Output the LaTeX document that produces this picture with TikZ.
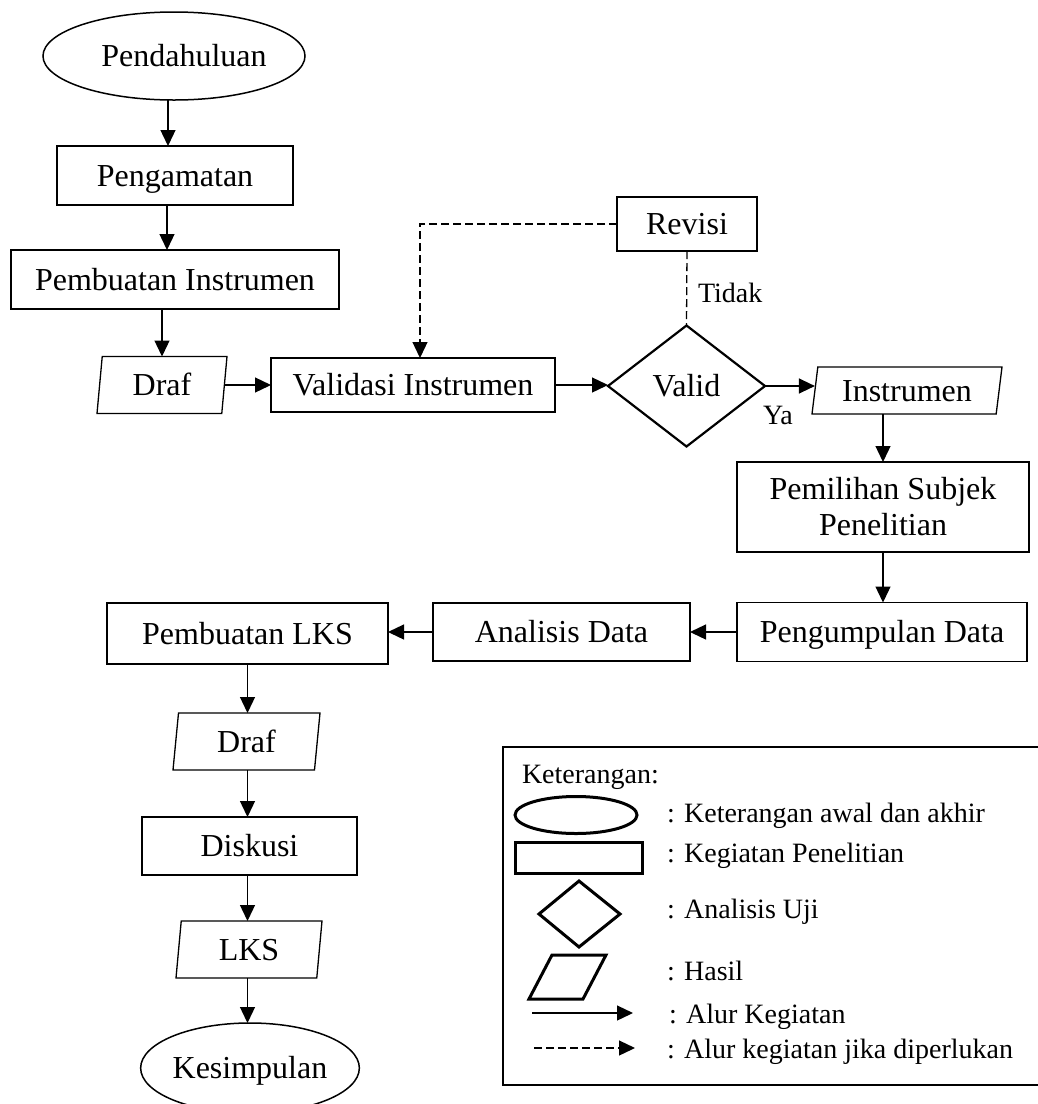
\documentclass[tikz,border=0pt]{standalone}
\usepackage{fontspec}
\setmainfont{Liberation Serif}
\usetikzlibrary{shapes.geometric,arrows.meta,calc}
\begin{document}
\begin{tikzpicture}[x=1pt,y=-1pt,
  every node/.style={font=\fontsize{32}{36}\selectfont, inner sep=0pt, outer sep=0pt},
  oneline/.style={text height=21pt, text depth=0pt},
  proc/.style={draw, line width=1.3pt, rectangle, align=center},
  term/.style={draw, line width=1.5pt, ellipse, oneline},
  io/.style={draw, line width=1.3pt, trapezium, trapezium stretches body,
    trapezium left angle=#1, trapezium right angle=180-#1, oneline},
  dec/.style={draw, line width=2.2pt, diamond, oneline},
  tip/.style={-{Triangle[length=16pt,width=15pt]}},
  flow/.style={line width=1.3pt, tip},
  dline/.style={line width=1.3pt, dash pattern=on 8pt off 4pt},
  lbl/.style={font=\fontsize{28}{32}\selectfont},
  leg/.style={draw, line width=3pt, line join=miter}
]
\useasboundingbox (0,0) rectangle (1038,1104);

% main flow
\node[term, minimum width=218pt, minimum height=88pt] (pend) at (174,56) {\hspace*{20pt}Pendahuluan};
\node[proc, oneline, minimum width=236pt, minimum height=59pt] (peng) at (175,175.5) {Pengamatan};
\node[proc, oneline, minimum width=328pt, minimum height=59pt] (pbi) at (175,279.5) {Pembuatan Instrumen};
\node[io=76, minimum width=130pt, minimum height=57pt] (draf1) at (162,385) {Draf};
\node[proc, oneline, minimum width=284pt, minimum height=54pt] (valins) at (413,385) {Validasi Instrumen};
\node[dec, minimum width=157pt, minimum height=121pt, aspect=1.3] (valid) at (686.5,386) {Valid};
\node[proc, oneline, minimum width=140pt, minimum height=54pt] (revisi) at (687,224) {Revisi};
\node[io=74.5, minimum width=190pt, minimum height=47pt] (instr) at (907,390.5) {Instrumen};
\node[proc, minimum width=292pt, minimum height=90pt] (pemil) at (883,507) {Pemilihan Subjek\\Penelitian};
\node[proc, oneline, minimum width=290pt, minimum height=59pt] (pengum) at (882,632) {Pengumpulan Data};
\node[proc, oneline, minimum width=257pt, minimum height=58pt] (anal) at (561.5,632) {Analisis Data};
\node[proc, oneline, minimum width=281pt, minimum height=61pt] (plks) at (247.5,633.5) {Pembuatan LKS};
\node[io=75.3, minimum width=147pt, minimum height=57pt] (draf2) at (246.5,741.5) {Draf};
\node[proc, oneline, minimum width=215pt, minimum height=58pt] (disk) at (249.5,846) {Diskusi};
\node[io=76, minimum width=146pt, minimum height=57pt] (lks) at (249,949.5) {LKS};
\node[term, minimum width=218pt, minimum height=90pt] (kes) at (250,1068) {Kesimpulan};

\node[lbl, anchor=west] (tidak) at (698,293) {Tidak};
\node[lbl] (ya) at (778,415) {Ya};

% connectors
\draw[flow] ([xshift=-6pt]pend.south) -- ([xshift=-7pt]peng.north);
\draw[flow] ([xshift=-8pt]peng.south) -- ([xshift=-8pt]pbi.north);
\draw[flow] (pbi.south -| draf1.north) -- (draf1.north);
\draw[flow] (draf1.east) -- (draf1.east -| valins.west);
\draw[flow] (valins.east) -- (valins.east -| valid.west);
\draw[flow] (valid.east) -- (valid.east -| instr.west);
\draw[flow] (pemil.north |- instr.south) -- (pemil.north);
\draw[flow] (pemil.south) -- (pemil.south |- pengum.north);
\draw[flow] (pengum.west) -- (pengum.west -| anal.east);
\draw[flow] (anal.west) -- (anal.west -| plks.east);
\draw[flow] (plks.south |- plks.south) -- (plks.south |- draf2.north);
\draw[flow] (draf2.south -| plks.south) -- (plks.south |- disk.north);
\draw[flow] (disk.south -| plks.south) -- (plks.south |- lks.north);
\draw[flow] (lks.south -| plks.south) -- (plks.south |- kes.north);
\draw[dline] (revisi.south) -- (valid.north);
\draw[dline, tip] (revisi.west) -| ([xshift=7pt]valins.north);

% legend
\draw[line width=1.2pt] (503,747) rectangle (1050,1085);
\node[lbl, anchor=base west] (ket) at (522,783) {Keterangan:};
\draw[leg] (576,815) ellipse [x radius=61pt, y radius=18.5pt];
\draw[leg] (515,842) rectangle (642,873);
\draw[leg] (539,914) -- (579,881) -- (620,914) -- (579,947) -- cycle;
\draw[leg] (552,955) -- (606,955) -- (583,999) -- (529,999) -- cycle;
\coordinate (s1) at (532,1013);
\coordinate (e1) at (633,1013);
\coordinate (s2) at (534,1048);
\coordinate (e2) at (635,1048);
\draw[flow] (s1) -- (e1);
\draw[dline, tip] (s2) -- (e2);
\node[lbl, anchor=base west] (l1) at (667,822) {: Keterangan awal dan akhir};
\node[lbl, anchor=base west] (l2) at (667,862) {: Kegiatan Penelitian};
\node[lbl, anchor=base west] (l3) at (667,918) {: Analisis Uji};
\node[lbl, anchor=base west] (l4) at (667,980) {: Hasil};
\node[lbl, anchor=base west] (l5) at (669,1023) {: Alur Kegiatan};
\node[lbl, anchor=base west] (l6) at (667,1058) {: Alur kegiatan jika diperlukan};
\end{tikzpicture}
\end{document}
